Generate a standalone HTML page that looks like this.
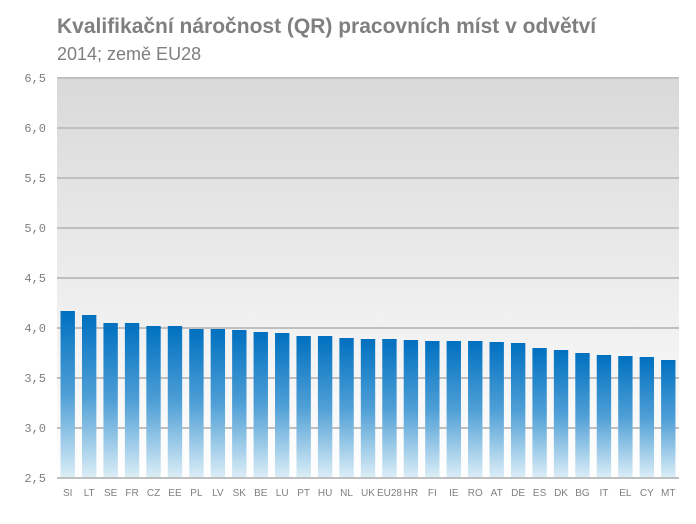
<!DOCTYPE html>
<html><head><meta charset="utf-8"><style>
body{margin:0;background:#fff;width:696px;height:519px;overflow:hidden;font-family:"Liberation Sans",sans-serif}
</style></head><body>
<svg width="696" height="519">
<defs>
<linearGradient id="bg" x1="0" y1="0" x2="0" y2="1"><stop offset="0" stop-color="#d9d9d9"/><stop offset="1" stop-color="#ffffff"/></linearGradient>
<linearGradient id="bar" x1="0" y1="0" x2="0" y2="1"><stop offset="0" stop-color="#0070c0"/><stop offset="0.5" stop-color="#4f9fd6"/><stop offset="1" stop-color="#dceef7"/></linearGradient>
</defs>
<text x="57" y="33" font-size="21" font-weight="bold" fill="#7f7f7f">Kvalifikační náročnost (QR)  pracovních míst v odvětví</text>
<text x="57" y="60" font-size="18" fill="#7f7f7f">2014; země EU28</text>
<rect x="57" y="78" width="622" height="400" fill="url(#bg)"/>
<g id="grid"></g><g id="bars"></g><g id="labels"></g>
</svg>
<script>
const categories=["SI","LT","SE","FR","CZ","EE","PL","LV","SK","BE","LU","PT","HU","NL","UK","EU28","HR","FI","IE","RO","AT","DE","ES","DK","BG","IT","EL","CY","MT"];
const values=[4.17,4.13,4.05,4.05,4.02,4.02,3.99,3.99,3.98,3.96,3.95,3.92,3.92,3.90,3.89,3.89,3.88,3.87,3.87,3.87,3.86,3.85,3.80,3.78,3.75,3.73,3.72,3.71,3.68];
const ticks=[2.5,3.0,3.5,4.0,4.5,5.0,5.5,6.0,6.5];
const NS="http://www.w3.org/2000/svg";
const x0=57,x1=679,y0=478,y1=78,vmin=2.5,vmax=6.5;
const y=v=>y0-(v-vmin)/(vmax-vmin)*(y0-y1);
const band=(x1-x0)/categories.length;
const grid=document.getElementById('grid'),bars=document.getElementById('bars'),labels=document.getElementById('labels');
ticks.forEach(t=>{
 if(t>vmin){const l=document.createElementNS(NS,'line');
 l.setAttribute('x1',x0);l.setAttribute('x2',x1);l.setAttribute('y1',y(t));l.setAttribute('y2',y(t));
 l.setAttribute('stroke','#bfbfbf');l.setAttribute('stroke-width','2');
 
 
 grid.appendChild(l);}
 const tx=document.createElementNS(NS,'text');
 tx.setAttribute('x',46);tx.setAttribute('y',y(t)+4);tx.setAttribute('text-anchor','end');
 tx.setAttribute('font-family','Liberation Mono, monospace');tx.setAttribute('font-size','12');tx.setAttribute('fill','#7f7f7f');
 tx.textContent=t.toFixed(1).replace('.',',');
 
 
 labels.appendChild(tx);
});
const bw=band*0.67;
categories.forEach((c,i)=>{
 const cx=x0+band*(i+0.5);
 const r=document.createElementNS(NS,'rect');
 r.setAttribute('x',cx-bw/2);r.setAttribute('width',bw);r.setAttribute('y',y(values[i]));r.setAttribute('height',y0-y(values[i]));
 r.setAttribute('fill','url(#bar)');
 
 
 bars.appendChild(r);
 const tx=document.createElementNS(NS,'text');
 tx.setAttribute('x',cx);tx.setAttribute('y',496);tx.setAttribute('text-anchor','middle');
 tx.setAttribute('font-size','10');tx.setAttribute('fill','#7f7f7f');
 tx.textContent=c;
 
 
 labels.appendChild(tx);
});
const ax=document.createElementNS(NS,'line');
ax.setAttribute('x1',x0);ax.setAttribute('x2',x1);ax.setAttribute('y1',y0);ax.setAttribute('y2',y0);
ax.setAttribute('stroke','#bfbfbf');ax.setAttribute('stroke-width','2');


labels.appendChild(ax);
</script>
</body></html>
